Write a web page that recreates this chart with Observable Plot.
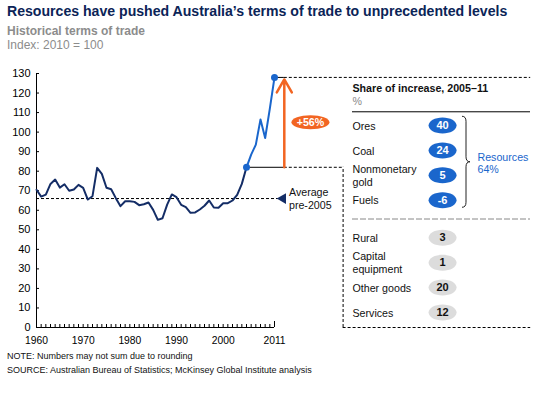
<!DOCTYPE html>
<html>
<head>
<meta charset="utf-8">
<script src="https://cdn.jsdelivr.net/npm/d3@7"></script>
<script src="https://cdn.jsdelivr.net/npm/@observablehq/plot@0.6"></script>
<style>
  html, body { margin: 0; padding: 0; background: #fff; }
  #wrap { position: relative; width: 545px; height: 394px; font-family: "Liberation Sans", Arial, sans-serif; overflow: hidden; background: #fff; }
  #wrap .abs { position: absolute; white-space: nowrap; z-index: 2; }
  #wrap svg { position: absolute; left: 0; top: 0; z-index: 1; }
</style>
</head>
<body>
<div id="wrap">
  <div class="abs" id="title" style="left:7px;top:3px;font-size:14.1px;font-weight:bold;color:#0b2457;"></div>
  <div class="abs" id="subtitle" style="left:7px;top:24px;font-size:12px;font-weight:bold;color:#8c8c8c;"></div>
  <div class="abs" id="units" style="left:7px;top:38px;font-size:12px;color:#8c8c8c;"></div>
  <div class="abs" id="note" style="left:7px;top:351px;font-size:9px;color:#111;"></div>
  <div class="abs" id="source" style="left:7px;top:365px;font-size:9px;color:#111;"></div>
</div>
<script>
// ---------- texts ----------
const titleText = "Resources have pushed Australia’s terms of trade to unprecedented levels";
const subtitleText = "Historical terms of trade";
const unitsText = "Index: 2010 = 100";
const noteText = "NOTE: Numbers may not sum due to rounding";
const sourceText = "SOURCE: Australian Bureau of Statistics; McKinsey Global Institute analysis";
const panelTitle = "Share of increase, 2005–11";
const panelUnit = "%";
const avgLabel = "Average\npre-2005";
const resourcesLabel = "Resources\n64%";

// ---------- data ----------
const years = [1960,1961,1962,1963,1964,1965,1966,1967,1968,1969,
               1970,1971,1972,1973,1974,1975,1976,1977,1978,1979,
               1980,1981,1982,1983,1984,1985,1986,1987,1988,1989,
               1990,1991,1992,1993,1994,1995,1996,1997,1998,1999,
               2000,2001,2002,2003,2004,2005,2006,2007,2008,2009,
               2010,2011];
const termsOfTrade = [70.5,67,68,73.5,75.7,71.6,73.3,70,70.6,73,
                      71.5,65.5,67.2,81.7,78.6,71.5,70.8,66.2,62.1,64.6,
                      64.6,64.3,62.6,63.1,64,60.2,55.1,55.9,62.9,68.1,
                      66.7,62.8,61.6,58.7,58.9,60.4,62.3,65,61.4,61.3,
                      63.6,63.6,65,67.9,73.5,82,88.5,93.6,106.5,97,
                      112,128];
const averagePre2005 = 66;
const yTicks = [0,10,20,30,40,50,60,70,80,90,100,110,120,130];
const xLabelYears = [1960,1970,1980,1990,2000,2011];

const categories = ["Ores","Coal","Nonmonetary\ngold","Fuels","Rural","Capital\nequipment","Other goods","Services"];
const shares = [40,24,5,-6,3,1,20,12];
const groups = ["Resources","Resources","Resources","Resources","Other","Other","Other","Other"];

// ---------- styles / layout ----------
const navy = "#142d66", blue = "#1a66cc", orange = "#f26522", grayPill = "#dcdcdc";
const font = "'Liberation Sans', Arial, sans-serif";
const startYear = 2005, endYear = 2011;
// positions beyond the plotted years, in year units of the x scale (layout only)
const arrowYear = 2013.1, panelLeftYear = 2025.7, panelRightYear = 2065.9;
const avgEndYear = 2011.9, markerYear = 2012.8, avgTextYear = 2014.1;
const pillYear = 2018.7, pillLevel = 105;

document.getElementById("title").textContent = titleText;
document.getElementById("subtitle").textContent = subtitleText;
document.getElementById("units").textContent = unitsText;
document.getElementById("note").textContent = noteText;
document.getElementById("source").textContent = sourceText;

function ellipseSymbol(w, h) {
  return {
    draw(ctx) {
      const k = 0.5523, a = w / 2, b = h / 2;
      ctx.moveTo(a, 0);
      ctx.bezierCurveTo(a, b * k, a * k, b, 0, b);
      ctx.bezierCurveTo(-a * k, b, -a, b * k, -a, 0);
      ctx.bezierCurveTo(-a, -b * k, -a * k, -b, 0, -b);
      ctx.bezierCurveTo(a * k, -b, a, -b * k, a, 0);
      ctx.closePath();
    }
  };
}

const series = years.map((y, i) => ({year: y, value: termsOfTrade[i]}));
const history = series.filter(d => d.year <= startYear);
const recent = series.filter(d => d.year >= startYear);
const v0 = series.find(d => d.year === startYear).value;
const v1 = series.find(d => d.year === endYear).value;
const increase = "+" + Math.round((v1 / v0 - 1) * 100) + "%";
const endpoints = series.filter(d => d.year === startYear || d.year === endYear);
const dash = "3,2";

const main = Plot.plot({
  width: 545, height: 394,
  marginTop: 73, marginBottom: 67, marginLeft: 36, marginRight: 271,
  x: {domain: [1960, 2011]},
  y: {domain: [0, 130]},
  style: {fontFamily: font, fontSize: "10px", background: "transparent", overflow: "visible", color: "#000"},
  marks: [
    Plot.axisY({ticks: yTicks, tickSize: 3, dx: 3, tickPadding: 6, label: null, fontSize: 11, tickFormat: d => String(d)}),
    Plot.axisX({ticks: years, tickSize: 3, dy: -3, tickFormat: () => "", label: null}),
    Plot.axisX({ticks: [2011], tickSize: 6, dy: -6, tickFormat: () => "", label: null}),
    Plot.axisX({ticks: xLabelYears, tickSize: 0, tickPadding: 9, label: null, fontSize: 10.3, tickFormat: d => String(d)}),
    Plot.ruleX([1960], {y1: 0, y2: 130, stroke: "#000"}),
    Plot.ruleY([0], {x1: 1960, x2: 2011, stroke: "#000"}),
    // average pre-2005
    Plot.ruleY([averagePre2005], {x1: 1960, x2: avgEndYear, stroke: "#000", strokeDasharray: dash}),
    Plot.dot([averagePre2005], {x: markerYear, y: d => d, symbol: "triangle", r: 4, rotate: -90, fill: navy, stroke: "none"}),
    Plot.text([avgLabel], {x: avgTextYear, y: averagePre2005, textAnchor: "start", fontSize: 10.67, fill: "#111", lineHeight: 1.25}),
    // connectors to the panel
    Plot.ruleY([v0], {x1: startYear, x2: arrowYear, stroke: "#000"}),
    Plot.ruleY([v0], {x1: arrowYear, x2: panelLeftYear, stroke: "#000", strokeDasharray: dash}),
    Plot.ruleX([panelLeftYear], {y1: 0, y2: v0, stroke: "#000", strokeDasharray: dash}),
    Plot.ruleY([0], {x1: panelLeftYear, x2: panelRightYear, stroke: "#000", strokeDasharray: dash}),
    Plot.ruleY([v1], {x1: endYear, x2: arrowYear, stroke: "#000"}),
    Plot.ruleY([v1], {x1: arrowYear, x2: panelRightYear, stroke: "#000", strokeDasharray: dash}),
    // the series
    Plot.line(history, {x: "year", y: "value", stroke: navy, strokeWidth: 2}),
    Plot.line(recent, {x: "year", y: "value", stroke: blue, strokeWidth: 2}),
    Plot.dot(endpoints, {x: "year", y: "value", fill: blue, r: 3.5, stroke: "none"}),
    // increase arrow
    Plot.arrow([{}], {x1: arrowYear, x2: arrowYear, y1: v0, y2: v1, stroke: orange, strokeWidth: 2.5, headLength: 9, insetEnd: 2}),
    Plot.dot([increase], {x: pillYear, y: pillLevel, symbol: ellipseSymbol(38, 14), fill: orange, stroke: "none"}),
    Plot.text([increase], {x: pillYear, y: pillLevel, fill: "white", fontWeight: "bold", fontSize: 10.67})
  ]
});

// ---------- panel ----------
const rows = categories.map((c, i) => ({
  category: c, share: shares[i], group: groups[i],
  slot: i + (groups[i] === "Other" ? 0.5 : 0)
}));
const pillX = 0.506, braceX = 0.618, resX = 0.702;

function braceMark(index, scales) {
  const x0 = scales.x(braceX), w = 8, r = 5;
  const y0 = scales.y(-0.35), y1 = scales.y(3.3), ym = (y0 + y1) / 2, xm = x0 + w / 2;
  const d = `M${x0},${y0} Q${xm},${y0} ${xm},${y0 + r} L${xm},${ym - r} Q${xm},${ym} ${x0 + w},${ym} ` +
            `Q${xm},${ym} ${xm},${ym + r} L${xm},${y1 - r} Q${xm},${y1} ${x0},${y1}`;
  const p = document.createElementNS("http://www.w3.org/2000/svg", "path");
  p.setAttribute("d", d);
  p.setAttribute("fill", "none");
  p.setAttribute("stroke", "#222");
  p.setAttribute("stroke-width", "1");
  return p;
}

const panel = Plot.plot({
  width: 545, height: 394,
  marginTop: 125, marginBottom: 82, marginLeft: 352, marginRight: 15,
  x: {domain: [0, 1], axis: null},
  y: {domain: [0, 7.5], axis: null, reverse: true},
  style: {fontFamily: font, fontSize: "10.67px", background: "transparent", overflow: "visible", pointerEvents: "none"},
  marks: [
    Plot.text([panelTitle], {x: 0, y: -1.5, textAnchor: "start", fontWeight: "bold", fill: "#111"}),
    Plot.text([panelUnit], {x: 0, y: -0.95, textAnchor: "start", fill: "#888"}),
    Plot.ruleY([-0.55], {x1: 0, x2: 1, stroke: "#000"}),
    Plot.ruleY([3.75], {x1: 0, x2: 1, stroke: "#888", strokeDasharray: "6,2"}),
    Plot.text(rows, {x: 0, y: "slot", text: "category", textAnchor: "start", fill: "#111", lineHeight: 1.2}),
    Plot.dot(rows, {x: pillX, y: "slot", symbol: ellipseSymbol(28, 16), fill: d => d.group === "Resources" ? blue : grayPill, stroke: "none"}),
    Plot.text(rows, {x: pillX, y: "slot", text: d => String(d.share), fontWeight: "bold", fontSize: 11, fill: d => d.group === "Resources" ? "white" : "#111"}),
    braceMark,
    Plot.text([resourcesLabel], {x: resX, y: 1.5, textAnchor: "start", fill: blue, lineHeight: 1.15})
  ]
});

const wrap = document.getElementById("wrap");
wrap.appendChild(main);
wrap.appendChild(panel);
</script>
</body>
</html>
